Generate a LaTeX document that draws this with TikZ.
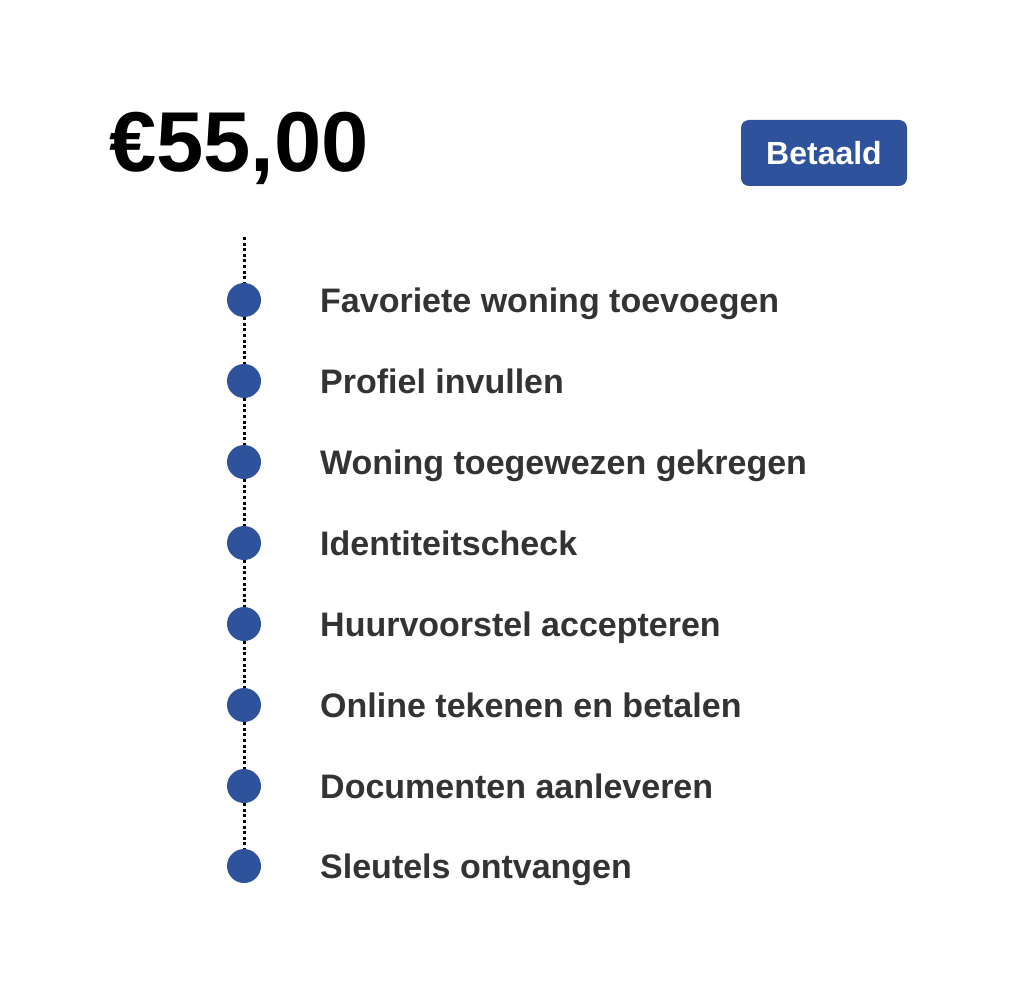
\documentclass[tikz,border=0pt]{standalone}
\usepackage{fontspec}
\setmainfont{Liberation Sans}
\definecolor{stepblue}{HTML}{2F529C}
\definecolor{labelgray}{HTML}{333333}
\begin{document}
\begin{tikzpicture}[x=1pt,y=-1pt,
  dotcircle/.style={circle,fill=stepblue,minimum size=34pt,inner sep=0pt},
  steplabel/.style={anchor=base west,inner sep=0pt,text=labelgray,font=\fontsize{34}{40}\selectfont\bfseries},
  dotline/.style={line width=3pt,dash pattern=on 3pt off 2.6pt}]
\useasboundingbox (0,0) rectangle (1014,1000);
\fill[white] (0,0) rectangle (1014,1000);
\node[anchor=base west,inner sep=0pt,font=\fontsize{85}{90}\selectfont\bfseries] (price) at (109,172) {€55,00};
\node[fill=stepblue,rounded corners=8pt,minimum width=166pt,minimum height=66pt,inner sep=0pt,
  text=white,font=\fontsize{32}{36}\selectfont\bfseries] (badge) at (824,153) {Betaald};
\coordinate (top) at (244,237);
\foreach \i/\y/\t in {1/300/Favoriete woning toevoegen,2/381/Profiel invullen,3/462/Woning toegewezen gekregen,4/543/Identiteitscheck,5/624/Huurvoorstel accepteren,6/705/Online tekenen en betalen,7/786/Documenten aanleveren,8/866/Sleutels ontvangen}{
  \node[dotcircle] (c\i) at (244,\y) {};
  \node[steplabel] (l\i) at (320,\y+12) {\t};
}
\draw[dotline] (top) -- (c1.north);
\foreach \a/\b in {1/2,2/3,3/4,4/5,5/6,6/7,7/8}{
  \draw[dotline] (c\a.south) -- (c\b.north);
}
\end{tikzpicture}
\end{document}
